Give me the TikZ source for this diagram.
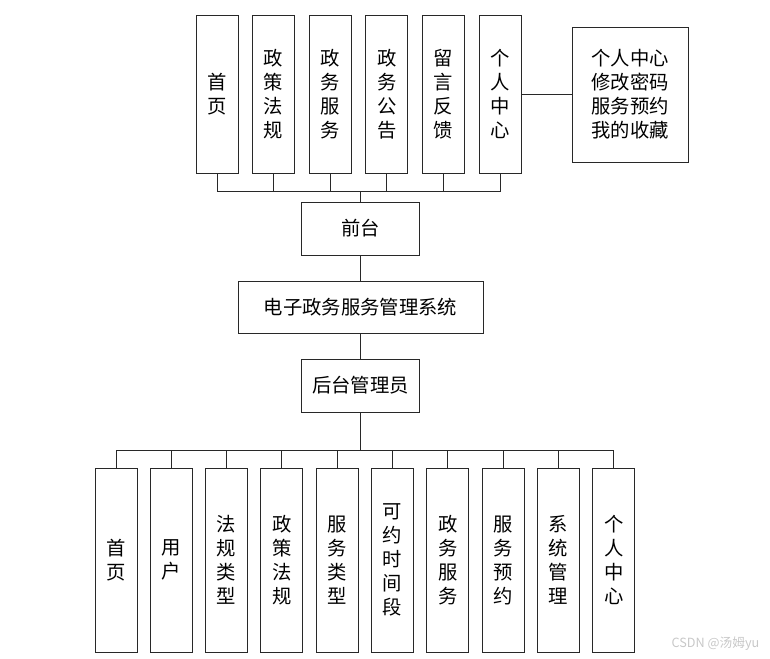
\documentclass[tikz,border=0pt]{standalone}
\usepackage{fontspec}
\setmainfont{Noto Sans CJK SC}
\usetikzlibrary{positioning}
\definecolor{lnk}{RGB}{40,40,40}
\definecolor{wmgray}{RGB}{200,200,200}

\begin{document}
\begin{tikzpicture}[x=0.75pt, y=-0.75pt, font=\fontsize{14.5}{18}\selectfont,
		box/.style={draw=lnk, line width=0.75pt, inner sep=0pt, align=center},
		tall/.style={box, minimum width=31.5pt, minimum height=118.5pt},
		low/.style={box, minimum width=31.5pt, minimum height=138pt},
		mid/.style={box, minimum width=88.5pt, minimum height=39.75pt},
		node distance=18.75pt]
		\useasboundingbox (0,0) rectangle (770,658);
		\node[box, minimum width=183.75pt, minimum height=39pt] (sys) at (360.5,307) {电子政务服务管理系统};
		\node[mid, above=of sys] (front) {前台};
		\node[mid, below=of sys] (admin) {后台管理员};
		\node[box, minimum width=87pt, minimum height=101.25pt] (side) at (630,94.5)
		     {个人中心\\修改密码\\服务预约\\我的收藏};
		% front pages
		\foreach \t [count=\i] in {{首\\页},{政\\策\\法\\规},{政\\务\\服\\务},
		                           {政\\务\\公\\告},{留\\言\\反\\馈},{个\\人\\中\\心}}
		  \node[tall] (f\i) at ({217+56.6*(\i-1)},94) {\t};
		% admin pages
		\foreach \t [count=\i] in {{首\\页},{用\\户},{法\\规\\类\\型},{政\\策\\法\\规},
		                           {服\\务\\类\\型},{可\\约\\时\\间\\段},{政\\务\\服\\务},
		                           {服\\务\\预\\约},{系\\统\\管\\理},{个\\人\\中\\心}}
		  \node[low] (b\i) at ({116+55.3*(\i-1)},560) {\t};
		\draw[lnk, line width=0.75pt] (front) -- (sys);
		\draw[lnk, line width=0.75pt] (sys) -- (admin);
		\draw[lnk, line width=0.75pt] (f6.east) -- (f6.east -| side.west);
		\foreach \i in {1,...,6}
		  \draw[lnk, line width=0.75pt] (front.north) -- ++(0,-10) -| (f\i);
		\foreach \i in {1,...,10}
		  \draw[lnk, line width=0.75pt] (admin.south) -- ++(0,38) -| (b\i);
		\node[text=wmgray, font=\fontsize{9.5}{10}\selectfont, anchor=east] (wmark) at (764,644) {CSDN @汤姆yu};
	\end{tikzpicture}
\end{document}
